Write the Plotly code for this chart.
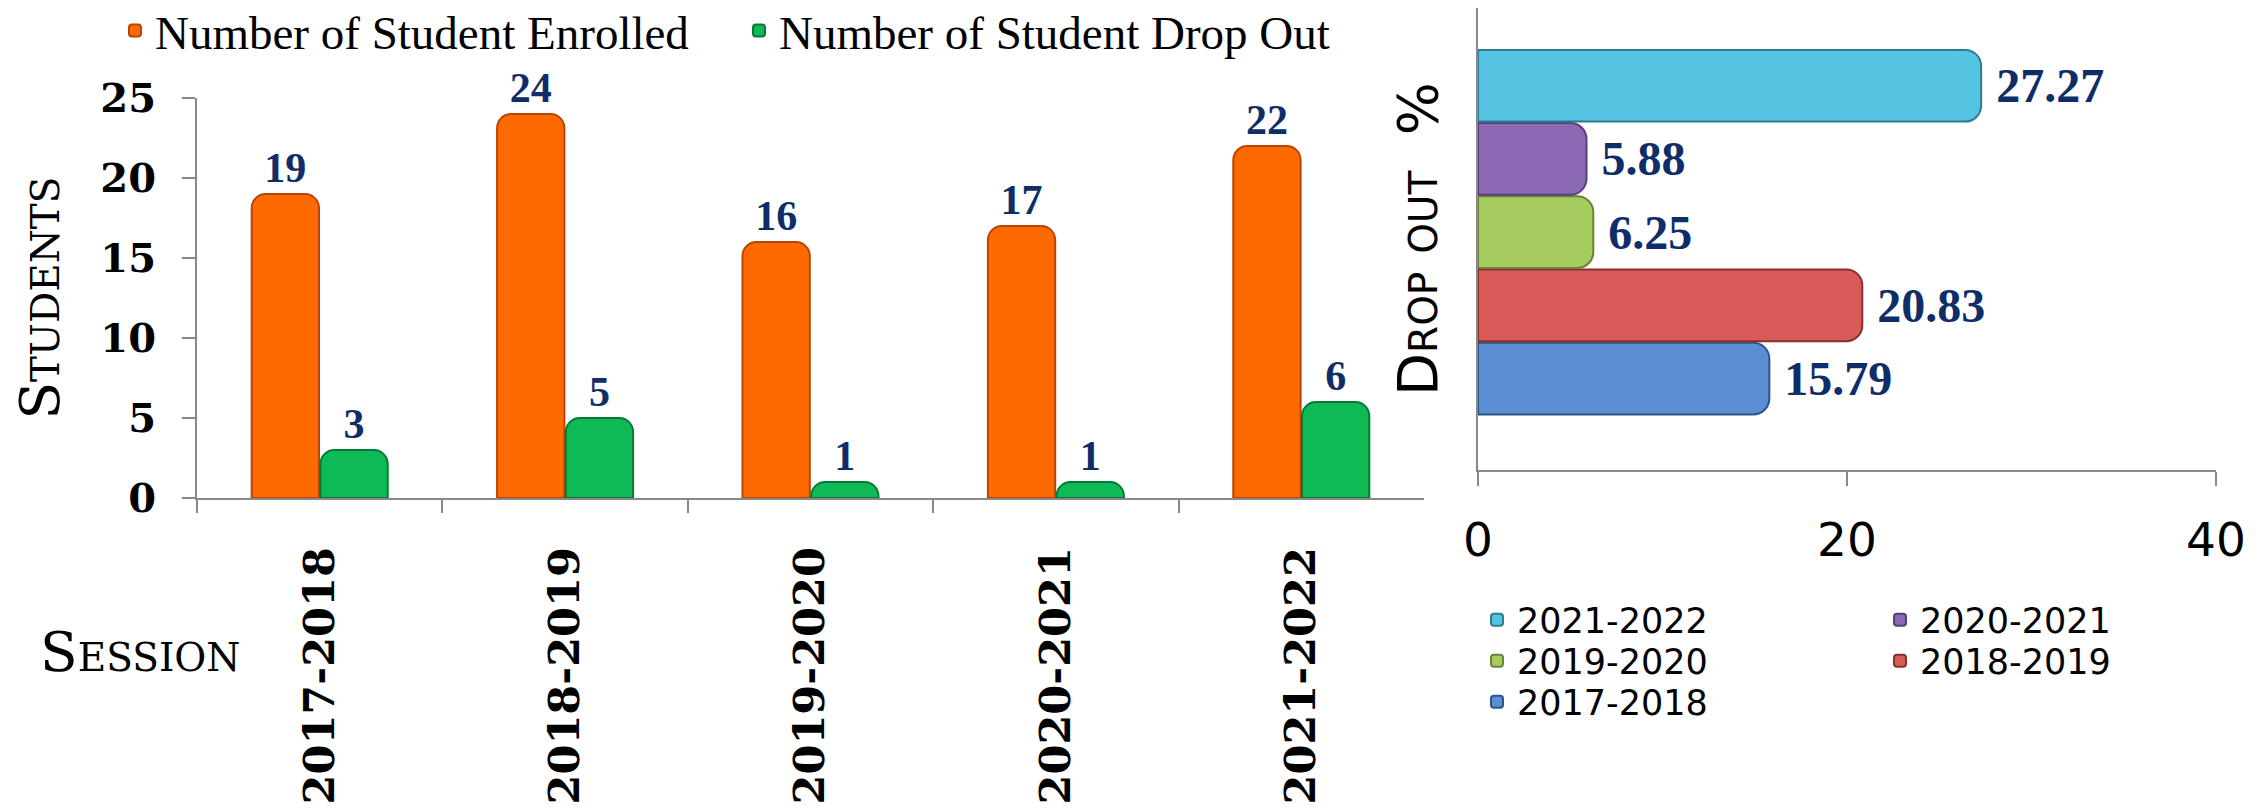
import plotly.graph_objects as go

W, H = 2267, 812
OFF = 8  # page body margin of the rendered html

# ---------------- data ----------------
sessions = ["2017-2018", "2018-2019", "2019-2020", "2020-2021", "2021-2022"]
enrolled = [19, 24, 16, 17, 22]
dropped = [3, 5, 1, 1, 6]
dropout_pct = [15.79, 20.83, 6.25, 5.88, 27.27]

enrolled_name = "Number of Student Enrolled"
dropped_name = "Number of Student Drop Out"
y_ticks = [0, 5, 10, 15, 20, 25]
x2_ticks = [0, 20, 40]

pct_colors = ["#5B8FD4", "#D95B58", "#A6CB5E", "#8B69B3", "#55C3E2"]
pct_lines = ["#2E5487", "#8A2F2D", "#67843A", "#57407A", "#2C7C93"]
pct_legend = ["legend4", "legend3", "legend3", "legend2", "legend2"]

NAVY = "#0F2D69"
AXIS = "#898989"

fig = go.Figure()

# ---------------- left chart: grouped bars ----------------
fig.add_trace(go.Bar(
    x=sessions, y=enrolled, name=enrolled_name,
    marker=dict(color="#FF6A00", line=dict(color="#B84600", width=2), cornerradius=14),
    text=enrolled, texttemplate="%{y}", textposition="outside",
    textfont=dict(family="Liberation Serif", size=42, color=NAVY, weight="bold"),
    cliponaxis=False, xaxis="x", yaxis="y", legend="legend",
))
fig.add_trace(go.Bar(
    x=sessions, y=dropped, name=dropped_name,
    marker=dict(color="#0DBA55", line=dict(color="#067A35", width=2), cornerradius=14),
    text=dropped, texttemplate="%{y}", textposition="outside",
    textfont=dict(family="Liberation Serif", size=42, color=NAVY, weight="bold"),
    cliponaxis=False, xaxis="x", yaxis="y", legend="legend",
))

# ---------------- right chart: one category, five series ----------------
for i, s in enumerate(sessions):
    fig.add_trace(go.Bar(
        y=[""], x=[dropout_pct[i]], name=s, orientation="h",
        marker=dict(color=pct_colors[i], line=dict(color=pct_lines[i], width=2), cornerradius=16),
        text=[dropout_pct[i]], texttemplate="\u00a0%{x:.2f}", textposition="outside",
        textfont=dict(family="Liberation Serif", size=48, color=NAVY, weight="bold"),
        cliponaxis=False, xaxis="x2", yaxis="y2", legend=pct_legend[i],
    ))

def px_x(p):
    return (p - OFF) / W

def px_y(p):
    return 1 - (p - OFF) / H

right_legend_font = dict(family="DejaVu Sans", size=35, color="black")

fig.update_layout(
    width=W, height=H,
    margin=dict(l=0, r=0, t=0, b=0, autoexpand=False),
    paper_bgcolor="white", plot_bgcolor="white",
    barmode="group", bargap=0.44, bargroupgap=0.02,
    showlegend=True,
    xaxis=dict(
        domain=[px_x(197), px_x(1424)], anchor="y",
        type="category", tickson="boundaries",
        ticks="outside", ticklen=13, tickwidth=2, tickcolor=AXIS,
        showline=True, linecolor=AXIS, linewidth=2, showgrid=False,
        tickangle=-90, ticklabelstandoff=30,
        tickfont=dict(family="DejaVu Serif", size=43, color="black", weight="bold"),
    ),
    yaxis=dict(
        domain=[px_y(498), px_y(98)], anchor="x",
        range=[0, 25], tickvals=y_ticks,
        ticks="outside", ticklen=13, tickwidth=2, tickcolor=AXIS,
        showline=True, linecolor=AXIS, linewidth=2, showgrid=False, zeroline=False,
        ticklabelstandoff=18,
        tickfont=dict(family="DejaVu Serif", size=40, color="black", weight="bold"),
        title=dict(text="Students", standoff=44,
                   font=dict(family="DejaVu Serif", size=55, color="black", variant="small-caps")),
    ),
    xaxis2=dict(
        domain=[px_x(1478), px_x(2216)], anchor="y2",
        range=[0, 40], tickvals=x2_ticks,
        ticks="outside", ticklen=14, tickwidth=2, tickcolor=AXIS,
        showline=True, linecolor=AXIS, linewidth=2, showgrid=False, zeroline=False,
        ticklabelstandoff=14,
        tickfont=dict(family="DejaVu Sans", size=47, color="black"),
    ),
    yaxis2=dict(
        domain=[px_y(470), 1.0], anchor="x2",
        type="category", range=[-0.364, 0.343],
        ticks="", showline=True, linecolor=AXIS, linewidth=2, showgrid=False,
        showticklabels=False,
        title=dict(text="Drop out\u00a0 %", standoff=20,
                   font=dict(family="DejaVu Sans", size=56, color="black", variant="small-caps")),
    ),
    legend=dict(
        orientation="h", x=px_x(115), xanchor="left", y=px_y(31), yanchor="middle",
        entrywidth=579, entrywidthmode="pixels",
        font=dict(family="Liberation Serif", size=47, color="black"),
        bgcolor="rgba(0,0,0,0)",
    ),
    legend2=dict(
        orientation="h", x=px_x(1477), xanchor="left", y=px_y(620), yanchor="middle",
        entrywidth=358, entrywidthmode="pixels", traceorder="reversed",
        font=right_legend_font, bgcolor="rgba(0,0,0,0)",
    ),
    legend3=dict(
        orientation="h", x=px_x(1477), xanchor="left", y=px_y(661), yanchor="middle",
        entrywidth=358, entrywidthmode="pixels", traceorder="reversed",
        font=right_legend_font, bgcolor="rgba(0,0,0,0)",
    ),
    legend4=dict(
        orientation="h", x=px_x(1477), xanchor="left", y=px_y(702), yanchor="middle",
        entrywidth=358, entrywidthmode="pixels",
        font=right_legend_font, bgcolor="rgba(0,0,0,0)",
    ),
    annotations=[dict(
        text="Session", xref="paper", yref="paper",
        x=px_x(38), y=px_y(652), xanchor="left", yanchor="middle", showarrow=False,
        font=dict(family="DejaVu Serif", size=55, color="black", variant="small-caps"),
    )],
)

fig.write_html("out.html")
